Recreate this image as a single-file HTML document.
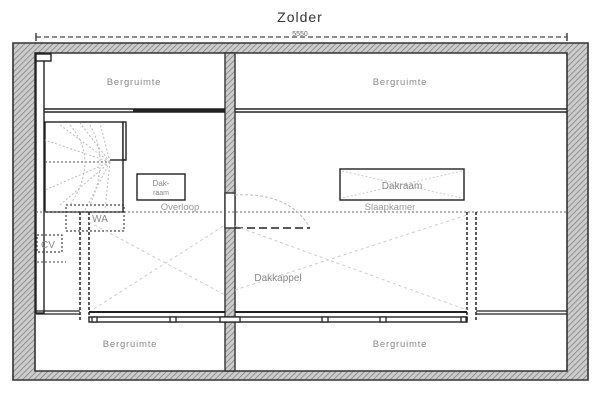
<!DOCTYPE html>
<html><head><style>body{margin:0;background:#fff}svg{display:block}</style></head><body>
<svg width="600" height="400" viewBox="0 0 600 400" xmlns="http://www.w3.org/2000/svg" font-family="Liberation Sans, sans-serif">
<defs><pattern id="h" width="4" height="4" patternUnits="userSpaceOnUse" patternTransform="rotate(45)"><rect width="4" height="4" fill="#ccc"/><line x1="0" y1="0" x2="0" y2="4" stroke="#777" stroke-width="1.4"/></pattern></defs>
<text x="300" y="22" font-size="14" text-anchor="middle" fill="#333" letter-spacing="1">Zolder</text>
<text x="300" y="36" font-size="7" text-anchor="middle" fill="#666">5550</text>
<line x1="36" y1="37" x2="567" y2="37" stroke="#444" stroke-width="1.3" stroke-dasharray="5,3"/>
<line x1="36" y1="33" x2="36" y2="41" stroke="#444" stroke-width="1.5"/><line x1="567" y1="33" x2="567" y2="41" stroke="#444" stroke-width="1.5"/>
<path d="M13 43H588V380H13Z M35 53V371H567V53Z" fill="url(#h)" fill-rule="evenodd" stroke="#333" stroke-width="1.6"/>
<rect x="225" y="53" width="10" height="318" fill="url(#h)" stroke="#333" stroke-width="1.4"/>
<rect x="225" y="193" width="10" height="35" fill="#fff" stroke="#333" stroke-width="1.4"/>
<rect x="36" y="53" width="8" height="260" fill="#fff" stroke="#222" stroke-width="1.4"/>
<rect x="36" y="54" width="15" height="7" fill="#fff" stroke="#222" stroke-width="1.4"/>
<g stroke="#222" stroke-width="1.4">
<line x1="44" y1="109" x2="225" y2="109"/><line x1="44" y1="112" x2="225" y2="112"/>
<line x1="235" y1="109" x2="567" y2="109"/><line x1="235" y1="112" x2="567" y2="112"/>
</g>
<line x1="133" y1="110.5" x2="225" y2="110.5" stroke="#222" stroke-width="2.5"/>
<rect x="45" y="122" width="78" height="90" fill="none" stroke="#222" stroke-width="1.4"/>
<rect x="123" y="122" width="3" height="38" fill="#fff" stroke="#222" stroke-width="1.4"/>
<line x1="110" y1="160" x2="126" y2="160" stroke="#222" stroke-width="1.4"/>
<g stroke="#bbb" stroke-dasharray="2,2" fill="none">
<line x1="45" y1="162" x2="110" y2="162" stroke="#555"/>
<path d="M110 162L60 125M110 162L80 123M110 162L100 123M110 162L45 140M110 162L45 190M110 162L60 205M110 162L85 210M110 162L105 210"/>
<path d="M70 125Q100 160 70 205M90 125Q110 160 90 205"/>
</g>
<rect x="137" y="174" width="48" height="26" fill="none" stroke="#222" stroke-width="1.4"/>
<text x="161" y="186" font-size="8" text-anchor="middle" fill="#888">Dak-</text>
<text x="161" y="195" font-size="7" text-anchor="middle" fill="#888">raam</text>
<rect x="340" y="169" width="124" height="31" fill="none" stroke="#222" stroke-width="1.4"/>
<path d="M342 171L462 198M462 171L342 198" stroke="#ccc" stroke-dasharray="2,2"/>
<text x="402" y="189" font-size="10" text-anchor="middle" fill="#888">Dakraam</text>
<line x1="36" y1="212" x2="567" y2="212" stroke="#666" stroke-dasharray="2,2"/>
<text x="180" y="210" font-size="9.5" text-anchor="middle" fill="#999">Overloop</text>
<text x="390" y="210" font-size="9.5" text-anchor="middle" fill="#999">Slaapkamer</text>
<path d="M235 195Q290 192 310 228" fill="none" stroke="#bbb" stroke-dasharray="3,2"/>
<line x1="235" y1="228" x2="310" y2="228" stroke="#222" stroke-width="1.4" stroke-dasharray="8,4"/>
<rect x="66" y="205" width="58" height="26" fill="none" stroke="#444" stroke-width="1.2" stroke-dasharray="2,2"/>
<text x="100" y="222" font-size="10" text-anchor="middle" fill="#888">WA</text>
<rect x="37" y="235" width="25" height="17" fill="none" stroke="#444" stroke-width="1.2" stroke-dasharray="2,2"/>
<text x="48" y="248" font-size="10" text-anchor="middle" fill="#888">CV</text>
<path d="M37 262H66" stroke="#444" stroke-dasharray="2,2"/>
<path d="M80 212V322M89 212V318M467 212V320M476 212V322" stroke="#222" stroke-width="1.5" stroke-dasharray="3,2" fill="none"/>
<path d="M89 312L225 225M89 222L225 295M235 290L467 215M235 226L467 310" stroke="#ccc" stroke-dasharray="3,3" fill="none"/>
<text x="278" y="281" font-size="10" text-anchor="middle" fill="#888">Dakkappel</text>
<g stroke="#222" stroke-width="1.3">
<line x1="36" y1="311" x2="80" y2="311"/><line x1="36" y1="314" x2="80" y2="314"/>
<line x1="476" y1="311" x2="567" y2="311"/><line x1="476" y1="314" x2="567" y2="314"/>
</g>
<line x1="89" y1="312" x2="225" y2="312" stroke="#222" stroke-width="2"/>
<line x1="235" y1="312" x2="467" y2="312" stroke="#222" stroke-width="2"/>
<rect x="89" y="317" width="378" height="5" fill="#fff" stroke="#222" stroke-width="1.4"/>
<g fill="#fff" stroke="#222" stroke-width="1.3"><rect x="92" y="317" width="5" height="5"/><rect x="170" y="317" width="6" height="5"/><rect x="220" y="317" width="20" height="5"/><rect x="322" y="317" width="6" height="5"/><rect x="380" y="317" width="6" height="5"/><rect x="461" y="317" width="5" height="5"/></g>
<g font-size="9.5" fill="#888" text-anchor="middle" letter-spacing="0.8">
<text x="134" y="85">Bergruimte</text><text x="400" y="85">Bergruimte</text>
<text x="130" y="347">Bergruimte</text><text x="400" y="347">Bergruimte</text>
</g>
</svg>
</body></html>
